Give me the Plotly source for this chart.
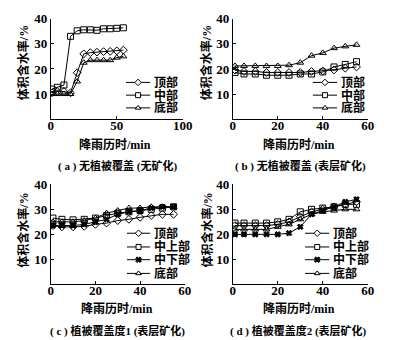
import plotly.graph_objects as go

# ---- data ----
t = [1, 5, 10, 15, 20, 25, 30, 35, 40, 45, 50, 55]

a_top = [10.5, 11.0, 11.0, 10.5, 18.5, 26.0, 26.5, 26.7, 26.9, 27.0, 27.2, 27.5]
a_mid = [12.0, 12.7, 13.6, 33.0, 35.2, 35.6, 35.6, 35.4, 36.0, 36.0, 36.2, 36.4]
a_bot = [10.0, 10.0, 10.0, 10.0, 15.0, 22.5, 23.5, 23.5, 23.5, 23.5, 24.5, 25.0]

b_top = [19.5, 19.0, 19.0, 18.6, 18.6, 18.6, 18.6, 19.0, 19.2, 19.6, 20.3, 20.8]
b_mid = [18.6, 18.0, 18.0, 17.5, 17.5, 17.5, 18.0, 18.0, 18.8, 20.8, 21.8, 22.9]
b_bot = [21.2, 21.2, 21.2, 21.2, 21.2, 21.5, 22.5, 25.3, 26.4, 28.3, 29.0, 29.6]

c_top = [23.5, 23.0, 23.0, 23.2, 24.0, 24.5, 25.5, 26.0, 26.8, 27.5, 28.0, 28.0]
c_umid = [26.5, 26.0, 25.8, 26.0, 26.5, 27.5, 28.5, 29.0, 29.5, 30.0, 30.5, 31.0]
c_lmid = [23.5, 23.5, 23.5, 24.0, 25.0, 26.0, 28.0, 29.0, 29.5, 30.5, 31.0, 31.0]
c_bot = [25.0, 25.0, 25.0, 25.5, 26.5, 28.5, 29.5, 30.5, 30.5, 31.0, 31.0, 31.0]

d_top = [23.5, 23.5, 23.5, 23.5, 24.0, 25.0, 27.0, 29.0, 30.0, 31.0, 32.0, 33.0]
d_umid = [24.5, 24.5, 24.5, 24.5, 25.0, 26.0, 29.0, 30.0, 30.5, 31.0, 32.0, 32.0]
d_lmid = [20.0, 20.0, 20.0, 20.0, 20.0, 20.5, 23.0, 28.0, 29.5, 31.0, 33.0, 34.0]
d_bot = [22.0, 22.0, 22.0, 22.0, 23.0, 24.0, 26.0, 28.0, 29.0, 29.5, 30.0, 30.0]

names3 = ["顶部", "中部", "底部"]
names4 = ["顶部", "中上部", "中下部", "底部"]
x_title = "降雨历时/min"
y_title = "体积含水率/%"
captions = ["( a ) 无植被覆盖 (无矿化)", "( b ) 无植被覆盖 (表层矿化)",
            "( c ) 植被覆盖度1 (表层矿化)", "( d ) 植被覆盖度2 (表层矿化)"]

FONT = "Liberation Serif, Noto Sans CJK SC, serif"
W, H = 410, 340

sym = {"顶部": "diamond-open", "中部": "square-open", "中上部": "square-open",
       "中下部": "x", "底部": "triangle-up-open"}

fig = go.Figure()

panels = [
    (1, [a_top, a_mid, a_bot], names3),
    (2, [b_top, b_mid, b_bot], names3),
    (3, [c_top, c_umid, c_lmid, c_bot], names4),
    (4, [d_top, d_umid, d_lmid, d_bot], names4),
]
for idx, series, names in panels:
    for ys, nm in zip(series, names):
        fig.add_trace(go.Scatter(
            x=t, y=ys, name=nm, mode="lines+markers", showlegend=False,
            line=dict(color="black", width=1),
            marker=dict(symbol=sym[nm], size=6 if nm != "中下部" else 5,
                        color="black", line=dict(color="black", width=1)),
            xaxis="x" if idx == 1 else f"x{idx}",
            yaxis="y" if idx == 1 else f"y{idx}",
        ))

def px_x(p):
    return p / W

def px_y(p):
    return 1 - p / H

xdom_left_a = [px_x(49.3), px_x(185.7)]
xdom_left_c = [px_x(49.3), px_x(187.7)]
xdom_right = [px_x(237.3), px_x(376.7)]
ydom_top = [px_y(114.5), px_y(12)]
ydom_bot = [px_y(283.3), px_y(181)]

axcommon = dict(showline=True, linecolor="black", linewidth=1, ticks="inside",
                ticklen=3, tickcolor="black", showgrid=False, zeroline=False,
                tickfont=dict(family=FONT, size=13, color="black", weight="bold"),
                mirror=False)
xcommon = dict(axcommon, ticklabelstandoff=-6)

fig.update_layout(
    xaxis=dict(domain=xdom_left_a, range=[0, 100], tickvals=[0, 50, 100], anchor="y", **xcommon),
    yaxis=dict(domain=ydom_top, range=[0, 40], tickvals=[10, 20, 30, 40], anchor="x", **axcommon),
    xaxis2=dict(domain=xdom_right, range=[0, 60], tickvals=[0, 20, 40, 60], anchor="y2", **xcommon),
    yaxis2=dict(domain=ydom_top, range=[0, 40], tickvals=[10, 20, 30, 40], anchor="x2", **axcommon),
    xaxis3=dict(domain=xdom_left_c, range=[0, 60], tickvals=[0, 20, 40, 60], anchor="y3", **xcommon),
    yaxis3=dict(domain=ydom_bot, range=[0, 40], tickvals=[10, 20, 30, 40], anchor="x3", **axcommon),
    xaxis4=dict(domain=xdom_right, range=[0, 60], tickvals=[0, 20, 40, 60], anchor="y4", **xcommon),
    yaxis4=dict(domain=ydom_bot, range=[0, 40], tickvals=[10, 20, 30, 40], anchor="x4", **axcommon),
    # overlay axis in pixel units for the hand-drawn legend markers
    xaxis5=dict(domain=[0, 1], range=[0, W], visible=False, anchor="y5", fixedrange=True),
    yaxis5=dict(domain=[0, 1], range=[H, 0], visible=False, anchor="x5", fixedrange=True),
)

ann = []
shapes = []

# ---- legends (compact, drawn manually) ----
legend_specs = [
    (names3, 127, 152, 154, [77, 90, 103]),
    (names3, 320, 345, 347, [77, 90, 103]),
    (names4, 128, 152, 154, [231, 245, 258, 272]),
    (names4, 312, 337, 339, [231, 245, 258, 272]),
]
for names, lx0, lx1, tx, rows in legend_specs:
    for nm, ry in zip(names, rows):
        shapes.append(dict(type="line", xref="paper", yref="paper", layer="below",
                           x0=px_x(lx0), x1=px_x(lx1), y0=px_y(ry), y1=px_y(ry),
                           line=dict(color="black", width=1)))
        fig.add_trace(go.Scatter(
            x=[(lx0 + lx1) / 2], y=[ry], mode="markers",
            showlegend=False, hoverinfo="skip",
            marker=dict(symbol=sym[nm].replace("-open", ""), size=5,
                        color="white" if nm != "中下部" else "black",
                        line=dict(color="black", width=1)),
            xaxis="x5", yaxis="y5",
        ))
        ann.append(dict(text="<b>" + nm + "</b>", x=px_x(tx), y=px_y(ry), xref="paper", yref="paper",
                        showarrow=False, font=dict(family=FONT, size=12, color="black"),
                        xanchor="left", yanchor="middle"))

# x titles
for cx, cy in [(116, 140), (306, 140), (118, 308), (306, 308)]:
    ann.append(dict(text="<b>" + x_title + "</b>", x=px_x(cx), y=px_y(cy), xref="paper", yref="paper",
                    showarrow=False, font=dict(family=FONT, size=12, color="black"),
                    xanchor="center", yanchor="middle"))
# y titles
for cx, cy in [(21, 57), (211, 57), (21, 228), (211, 228)]:
    ann.append(dict(text="<b>" + y_title + "</b>", x=px_x(cx), y=px_y(cy), xref="paper", yref="paper",
                    showarrow=False, textangle=-90, font=dict(family=FONT, size=12, color="black"),
                    xanchor="center", yanchor="middle"))
# captions
for cap, cx, cy in zip(captions, [118, 307, 118, 305], [162, 162, 331, 331]):
    ann.append(dict(text="<b>" + cap + "</b>", x=px_x(cx), y=px_y(cy), xref="paper", yref="paper",
                    showarrow=False, font=dict(family=FONT, size=11, color="black"),
                    xanchor="center", yanchor="middle"))

fig.update_layout(
    annotations=ann,
    shapes=shapes,
    width=W, height=H,
    margin=dict(l=0, r=0, t=0, b=0),
    paper_bgcolor="white", plot_bgcolor="rgba(0,0,0,0)",
    showlegend=False,
)

fig.write_html("out.html")
